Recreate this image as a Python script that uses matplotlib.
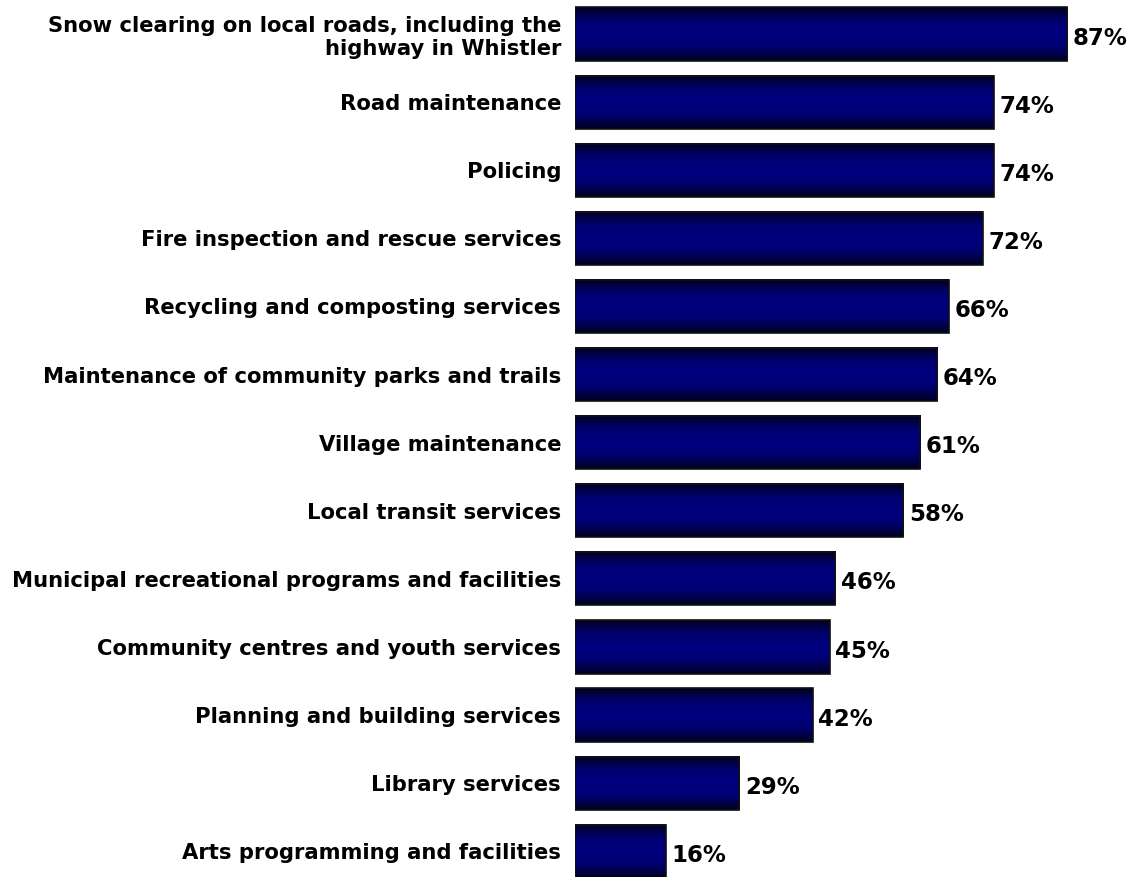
import numpy as np
import matplotlib
matplotlib.use('Agg')
import matplotlib.pyplot as plt
from matplotlib.colors import LinearSegmentedColormap

services = [
    'Snow clearing on local roads, including the\nhighway in Whistler',
    'Road maintenance',
    'Policing',
    'Fire inspection and rescue services',
    'Recycling and composting services',
    'Maintenance of community parks and trails',
    'Village maintenance',
    'Local transit services',
    'Municipal recreational programs and facilities',
    'Community centres and youth services',
    'Planning and building services',
    'Library services',
    'Arts programming and facilities',
]
percent = [87, 74, 74, 72, 66, 64, 61, 58, 46, 45, 42, 29, 16]

fig = plt.figure(figsize=(11.41, 8.77), dpi=100)
ax = fig.add_axes([575 / 1141, 0, 1 - 575 / 1141, 1])

# dark edges -> navy middle, like the shaded bars in the original
cmap = LinearSegmentedColormap.from_list('navy', ['#000020', '#000070', '#000080', '#000070', '#000020'])
grad = np.linspace(0, 1, 64).reshape(-1, 1)
bar_h = 0.78

for i, v in enumerate(percent):
    ax.imshow(grad, cmap=cmap, aspect='auto', interpolation='bicubic',
              extent=[0, v, i + bar_h / 2, i - bar_h / 2], zorder=2)
    ax.barh(i, v, height=bar_h, color='none', edgecolor='#111111', linewidth=1.2, zorder=3)
    ax.text(v + 1.0, i + 0.06, f'{v}%', va='center', ha='left',
            fontsize=16.5, fontweight='bold', color='black')

ax.set_xlim(0, 100)
ax.set_ylim(-0.5 + 877 / 68.1, -0.5)
ax.set_yticks(range(len(services)))
ax.set_yticklabels(services, fontsize=15.2, fontweight='bold', ha='right', multialignment='right')
ax.tick_params(axis='y', length=0, pad=10)
ax.set_xticks([])
for s in ax.spines.values():
    s.set_visible(False)

fig.savefig('out.png', dpi=100)
